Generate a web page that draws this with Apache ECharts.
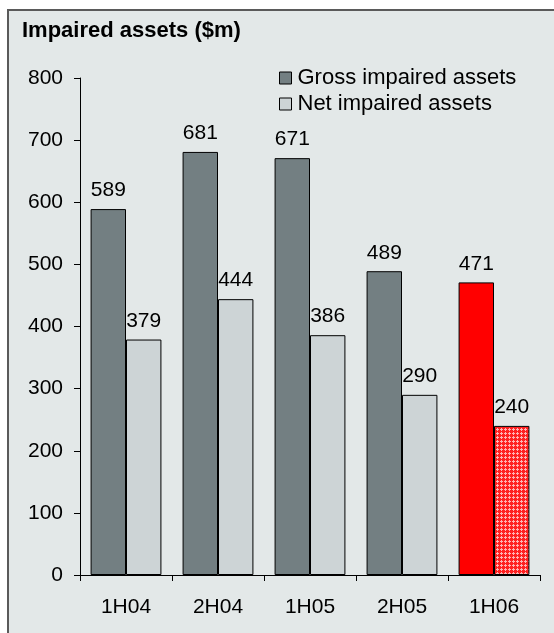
<!DOCTYPE html>
<html>
<head>
<meta charset="utf-8">
<script src="https://cdn.jsdelivr.net/npm/echarts@6/dist/echarts.min.js"></script>
<style>
html,body{margin:0;padding:0;background:#fff;}
#chart{width:554px;height:633px;}
</style>
</head>
<body>
<div id="chart"></div>
<script>
const categories = ['1H04', '2H04', '1H05', '2H05', '1H06'];
const grossImpaired = [589, 681, 671, 489, 471];
const netImpaired = [379, 444, 386, 290, 240];
const yTicks = [0, 100, 200, 300, 400, 500, 600, 700, 800];

const FONT = '"Liberation Sans", Arial, sans-serif';
const GROSS = '#737f82';
const NET = '#cdd4d6';
const HIGHLIGHT = '#ff0000';

// small hatched tile for the latest net value
function hatchTile() {
  const c = document.createElement('canvas');
  c.width = 4; c.height = 4;
  const g = c.getContext('2d');
  g.fillStyle = '#ff2020';
  g.fillRect(0, 0, 4, 4);
  g.fillStyle = '#ffb4b4';
  g.fillRect(1, 0, 1, 3);
  g.fillRect(0, 1, 3, 1);
  return c;
}

const last = categories.length - 1;
const grossData = grossImpaired.map((v, i) => i === last ? { value: v, itemStyle: { color: HIGHLIGHT } } : v);
const netData = netImpaired.map((v, i) => i === last ? { value: v, itemStyle: { color: { image: hatchTile(), repeat: 'repeat' } } } : v);

const chart = echarts.init(document.getElementById('chart'), null, { renderer: 'canvas' });
const labelStyle = { show: true, position: 'top', distance: 8, color: '#000', fontFamily: FONT, fontSize: 21 };

chart.setOption({
  animation: false,
  backgroundColor: '#ffffff',
  graphic: [
    { type: 'rect', z: -10, shape: { x: 8, y: 10, width: 560, height: 640 },
      style: { fill: '#e3e8e8', stroke: '#5a5a5a', lineWidth: 2 } },
    { type: 'text', left: 22, top: 20,
      style: { text: 'Impaired assets ($m)', fontFamily: FONT, fontWeight: 'bold', fontSize: 22, fill: '#000' } }
  ],
  legend: {
    left: 274, top: 62, orient: 'vertical', itemGap: 4,
    itemWidth: 12, itemHeight: 12, icon: 'rect',
    textStyle: { fontFamily: FONT, fontSize: 22, color: '#000', padding: [0, 0, 0, 1] },
    data: [
      { name: 'Gross impaired assets', itemStyle: { color: GROSS, borderColor: '#000', borderWidth: 1 } },
      { name: 'Net impaired assets', itemStyle: { color: NET, borderColor: '#000', borderWidth: 1 } }
    ]
  },
  grid: { left: 80, right: 14, top: 78, bottom: 58 },
  xAxis: {
    type: 'category', data: categories,
    axisLine: { lineStyle: { color: '#000', width: 1 } },
    axisTick: { show: true, length: 6, alignWithLabel: false, lineStyle: { color: '#000' } },
    axisLabel: { fontFamily: FONT, fontSize: 21, color: '#000', margin: 22 },
    splitLine: { show: false }
  },
  yAxis: {
    type: 'value', min: 0, max: 800, interval: 100,
    axisLine: { show: true, lineStyle: { color: '#000', width: 1 } },
    axisTick: { show: true, length: 6, lineStyle: { color: '#000' } },
    axisLabel: { fontFamily: FONT, fontSize: 21, color: '#000', margin: 17,
      formatter: v => yTicks.includes(v) ? String(v) : '' },
    splitLine: { show: false }
  },
  series: [
    { name: 'Gross impaired assets', type: 'bar', data: grossData, barGap: '0%', barCategoryGap: '23%',
      itemStyle: { color: GROSS, borderColor: '#000', borderWidth: 1 }, label: labelStyle },
    { name: 'Net impaired assets', type: 'bar', data: netData, barGap: '0%', barCategoryGap: '23%',
      itemStyle: { color: NET, borderColor: '#000', borderWidth: 1 }, label: labelStyle }
  ]
});
</script>
</body>
</html>
